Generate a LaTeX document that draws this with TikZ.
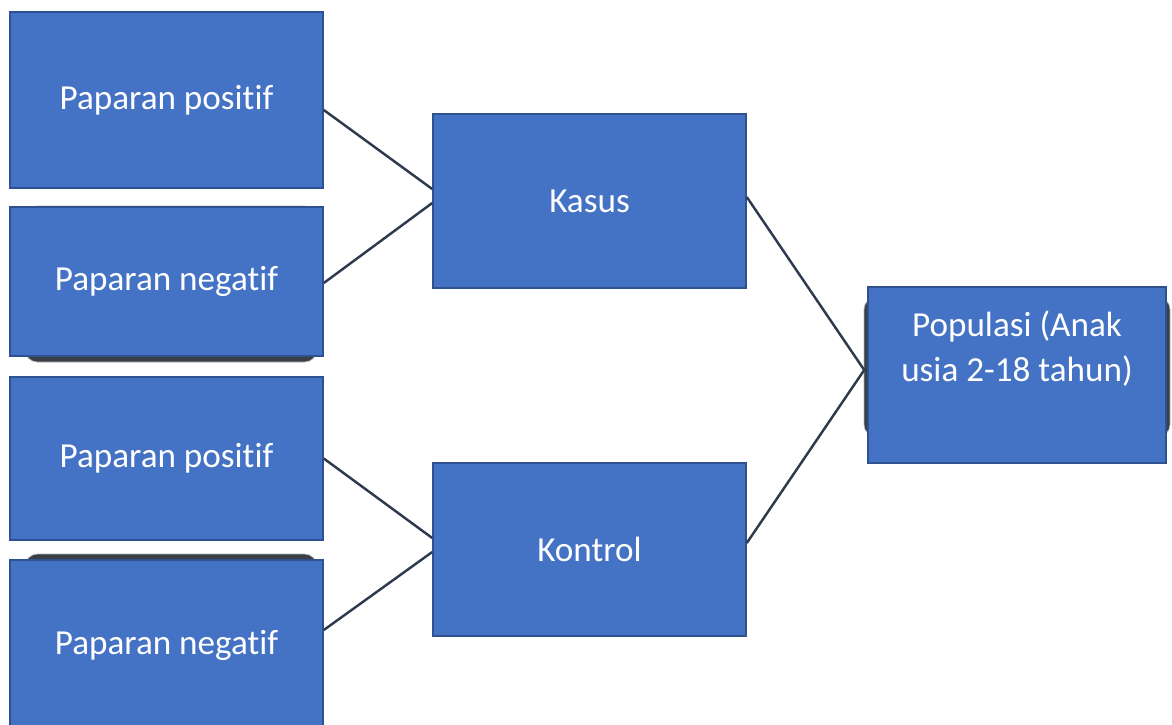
\documentclass[tikz,border=0pt]{standalone}
\usepackage{fontspec}
\setmainfont{Carlito}[Ligatures=NoCommon]
\definecolor{boxblue}{HTML}{4472C4}
\definecolor{boxedge}{HTML}{2F528F}
\definecolor{linkgray}{HTML}{2E3B4E}
\definecolor{shadowgray}{HTML}{3A3F47}

\begin{document}
\begin{tikzpicture}[
		box/.style={draw=boxedge, line width=0.9pt, fill=boxblue, text=white, minimum width=6.26cm, align=center, font=\fontsize{20}{25.6}\selectfont},
		shade/.style={fill=shadowgray, draw=gray!60, rounded corners=0.25cm},
		link/.style={draw=linkgray, line width=1.4pt}
	]
		\clip (0, 0) rectangle (23.44, -14.48);

		% rounded shadows behind three boxes
		\fill[shade] (0.5, -4.12) rectangle (6.34, -7.24);
		\fill[shade] (0.5, -11.08) rectangle (6.34, -15.0);
		\fill[shade] (17.28, -5.94) rectangle (23.40, -8.74);

		\node[box, minimum height=3.52cm] (pos1) at (3.33, -2.00) {Paparan positif};
		\node[box, minimum height=2.98cm] (neg1) at (3.33, -5.63) {Paparan negatif};
		\node[box, minimum height=3.26cm] (pos2) at (3.33, -9.17) {Paparan positif};
		\node[box, minimum height=3.40cm] (neg2) at (3.33, -12.90) {Paparan negatif};

		\node[box, minimum height=3.48cm] (kasus) at (11.79, -4.02) {Kasus};
		\node[box, minimum height=3.46cm] (kontrol) at (11.79, -10.99) {Kontrol};

		\node[box, minimum width=5.96cm, minimum height=3.52cm] (pop) at (20.34, -7.50) {Populasi (Anak\\usia 2-18 tahun)\\\strut};
		\coordinate (popin) at ([xshift=-0.06cm, yshift=0.1cm]pop.west);

		\draw[link] ([yshift=-0.2cm]pos1.east) -- ([yshift=0.24cm]kasus.west);
		\draw[link] ([yshift=-0.03cm]neg1.east) -- ([yshift=-0.04cm]kasus.west);
		\draw[link] (pos2.east) -- ([yshift=0.23cm]kontrol.west);
		\draw[link] ([yshift=0.3cm]neg2.east) -- ([yshift=-0.05cm]kontrol.west);

		\draw[link] ([yshift=0.08cm]kasus.east) -- (popin);
		\draw[link] ([yshift=0.13cm]kontrol.east) -- (popin);
	\end{tikzpicture}
\end{document}
